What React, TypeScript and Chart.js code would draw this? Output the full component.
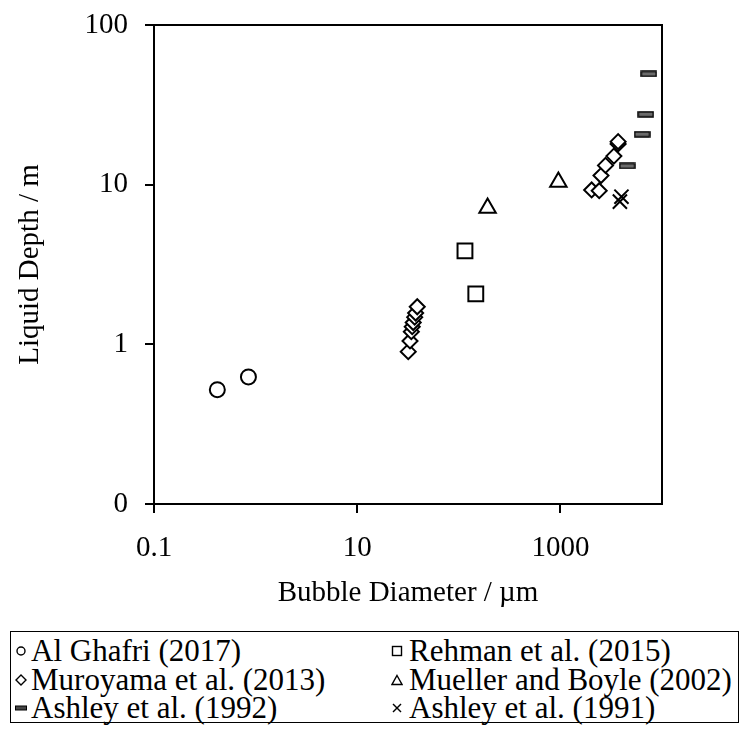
import React, { useEffect, useRef } from 'react';
import { Chart, registerables } from 'chart.js';

Chart.register(...registerables);

// Axis ticks
const xTickValues = [0.1, 10, 1000];
const xTickLabels = ['0.1', '10', '1000'];
const yTickValues = [0.1, 1, 10, 100];
const yTickLabels = ['0', '1', '10', '100'];

// Bubble diameter (µm) and liquid depth (m) per study
const alGhafriDiameter = [0.42, 0.85];
const alGhafriDepth = [0.52, 0.625];

const rehmanDiameter = [147, 115];
const rehmanDepth = [2.07, 3.85];

const muroyamaDiameter = [31.8, 33.1, 34.1, 34.8, 35.6, 36.8, 37.6, 39.0, 2030, 2410, 2510, 2780, 3360, 3700, 3700];
const muroyamaDepth = [0.9, 1.05, 1.2, 1.29, 1.37, 1.48, 1.57, 1.72, 9.27, 9.17, 11.4, 13.2, 15.1, 18.0, 18.6];

const muellerDiameter = [192, 955];
const muellerDepth = [7.15, 10.4];

const ashley1992Diameter = [7410, 6920, 6370, 4540];
const ashley1992Depth = [49.4, 27.6, 20.7, 13.1];

const ashley1991Diameter = [3990, 3850];
const ashley1991Depth = [8.41, 7.83];

const FONT = '"Liberation Serif", serif';

const pairs = (xs: number[], ys: number[]) => xs.map((x, i) => ({ x, y: ys[i] }));

function makeDash(): HTMLCanvasElement {
  const c = document.createElement('canvas');
  c.width = 17;
  c.height = 7;
  const g = c.getContext('2d')!;
  g.fillStyle = '#6b6b6b';
  g.fillRect(1, 1, 15, 5);
  g.strokeStyle = '#000';
  g.lineWidth = 1.5;
  g.strokeRect(1, 1, 15, 5);
  return c;
}

// Closes the plot box on the top and right sides
const framePlugin = {
  id: 'plotFrame',
  afterDraw(chart: any) {
    const { ctx, chartArea } = chart;
    ctx.save();
    ctx.strokeStyle = '#000';
    ctx.lineWidth = 2;
    ctx.strokeRect(chartArea.left, chartArea.top, chartArea.right - chartArea.left, chartArea.bottom - chartArea.top);
    ctx.restore();
  },
};

const legendItems = [
  { label: 'Al Ghafri (2017)', mark: 'circle' },
  { label: 'Rehman et al. (2015)', mark: 'square' },
  { label: 'Muroyama et al. (2013)', mark: 'diamond' },
  { label: 'Mueller and Boyle (2002)', mark: 'triangle' },
  { label: 'Ashley et al. (1992)', mark: 'dash' },
  { label: 'Ashley et al. (1991)', mark: 'cross' },
];

function Mark({ kind }: { kind: string }) {
  const s = { stroke: '#000', strokeWidth: 1.4, fill: 'none' } as any;
  let el: any = null;
  if (kind === 'circle') el = <circle cx={6} cy={6} r={4} {...s} />;
  if (kind === 'square') el = <rect x={1.5} y={1.5} width={9} height={9} {...s} />;
  if (kind === 'diamond') el = <polygon points="6,1 11,6 6,11 1,6" {...s} />;
  if (kind === 'triangle') el = <polygon points="6,1.5 11,10.5 1,10.5" {...s} />;
  if (kind === 'dash') el = <rect x={0.5} y={4} width={11} height={4} fill="#444" stroke="#000" strokeWidth={1} />;
  if (kind === 'cross')
    el = (
      <g {...s}>
        <line x1={2} y1={2} x2={10} y2={10} />
        <line x1={10} y1={2} x2={2} y2={10} />
      </g>
    );
  return (
    <svg width={12} height={12} style={{ display: 'block', flex: 'none' }}>
      {el}
    </svg>
  );
}

export default function App() {
  const canvasRef = useRef<HTMLCanvasElement | null>(null);

  useEffect(() => {
    if (!canvasRef.current) return;
    const dash = makeDash();
    const base = { borderColor: '#000', backgroundColor: '#fff', borderWidth: 2 };
    const tickFont = { family: FONT, size: 29 };
    const chart = new Chart(canvasRef.current, {
      type: 'scatter',
      data: {
        datasets: [
          { ...base, label: 'Al Ghafri (2017)', data: pairs(alGhafriDiameter, alGhafriDepth), pointStyle: 'circle', pointRadius: 7.5 },
          { ...base, label: 'Rehman et al. (2015)', data: pairs(rehmanDiameter, rehmanDepth), pointStyle: 'rect', pointRadius: 10.5 },
          { ...base, label: 'Muroyama et al. (2013)', data: pairs(muroyamaDiameter, muroyamaDepth), pointStyle: 'rectRot', pointRadius: 7.5 },
          { ...base, label: 'Mueller and Boyle (2002)', data: pairs(muellerDiameter, muellerDepth), pointStyle: 'triangle', pointRadius: 9.5 },
          { ...base, label: 'Ashley et al. (1992)', data: pairs(ashley1992Diameter, ashley1992Depth), pointStyle: dash as any, pointRadius: 8 },
          { ...base, label: 'Ashley et al. (1991)', data: pairs(ashley1991Diameter, ashley1991Depth), pointStyle: 'crossRot', pointRadius: 10 },
        ],
      },
      options: {
        animation: false,
        responsive: false,
        maintainAspectRatio: false,
        font: { family: FONT },
        layout: { padding: { top: 17, right: 80, left: 0, bottom: 0 } },
        plugins: { legend: { display: false }, tooltip: { enabled: false } },
        scales: {
          x: {
            type: 'logarithmic',
            position: 'bottom',
            min: 0.1,
            max: 10000,
            afterBuildTicks: (s: any) => {
              s.ticks = xTickValues.map((v) => ({ value: v }));
            },
            afterFit: (s: any) => {
              s.height = 114;
            },
            ticks: {
              autoSkip: false,
              maxRotation: 0,
              color: '#000',
              padding: 18,
              font: tickFont,
              callback: (_v: any, i: number) => xTickLabels[i],
            },
            grid: { drawOnChartArea: false, drawTicks: true, tickLength: 9, color: '#000', lineWidth: 2 },
            border: { display: true, color: '#000', width: 2 },
            title: {
              display: true,
              text: 'Bubble Diameter / µm',
              color: '#000',
              font: tickFont,
              padding: { top: 0, bottom: 7 },
            },
          },
          y: {
            type: 'logarithmic',
            position: 'left',
            min: 0.1,
            max: 100,
            afterBuildTicks: (s: any) => {
              s.ticks = yTickValues.map((v) => ({ value: v }));
            },
            afterFit: (s: any) => {
              s.width = 146;
              s.paddingTop = 0;
              s.paddingBottom = 0;
            },
            ticks: {
              autoSkip: false,
              color: '#000',
              padding: 17,
              font: tickFont,
              callback: (_v: any, i: number) => yTickLabels[i],
            },
            grid: { drawOnChartArea: false, drawTicks: true, tickLength: 9, color: '#000', lineWidth: 2 },
            border: { display: true, color: '#000', width: 2 },
            title: {
              display: true,
              text: 'Liquid Depth / m',
              color: '#000',
              font: tickFont,
              padding: { top: 5, bottom: 0 },
            },
          },
        },
      } as any,
      plugins: [framePlugin],
    });
    let alive = true;
    if ((document as any).fonts) {
      (document as any).fonts.load('29px "Liberation Serif"').then(() => {
        if (alive) chart.update();
      });
    }
    return () => {
      alive = false;
      chart.destroy();
    };
  }, []);

  const rows = [19, 48, 76];
  return (
    <div style={{ position: 'relative', width: 734, height: 720, fontFamily: FONT }}>
      <canvas ref={canvasRef} width={734} height={610} style={{ position: 'absolute', left: 0, top: 0, width: 734, height: 610 }} />
      <div
        style={{
          position: 'absolute',
          left: 2,
          top: 623,
          width: 729,
          height: 92,
          border: '1.5px solid #000',
          boxSizing: 'border-box',
        }}
      >
        {legendItems.map((it, i) => {
          const col = i % 2;
          const row = Math.floor(i / 2);
          return (
            <div
              key={it.label}
              style={{
                position: 'absolute',
                left: col === 0 ? 4 : 380,
                top: rows[row] - 16,
                height: 32,
                display: 'flex',
                alignItems: 'center',
                whiteSpace: 'nowrap',
                fontSize: 31,
                lineHeight: '32px',
                color: '#000',
                fontFamily: FONT,
              }}
            >
              <Mark kind={it.mark} />
              <span style={{ marginLeft: col === 0 ? 4 : 6 }}>{it.label}</span>
            </div>
          );
        })}
      </div>
    </div>
  );
}
